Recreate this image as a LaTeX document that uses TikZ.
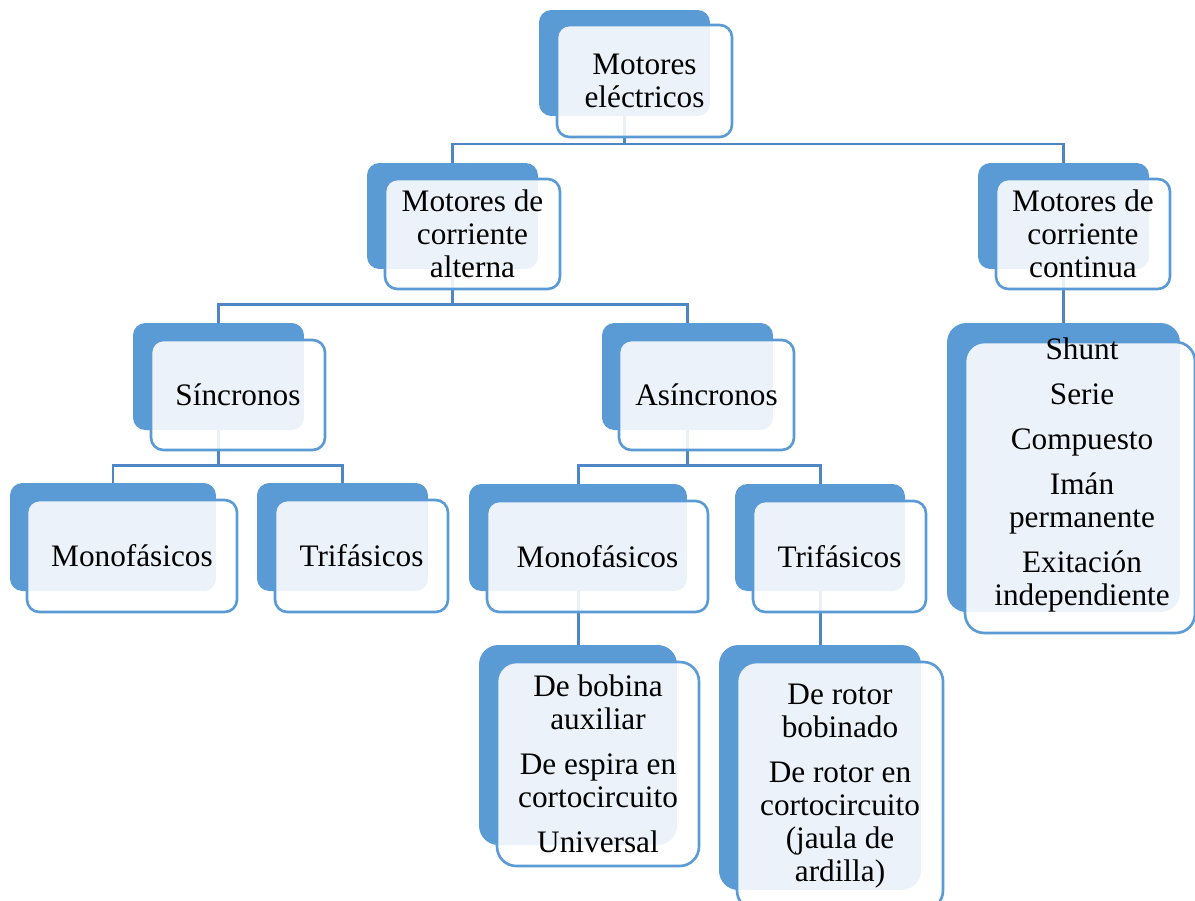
\documentclass[tikz,border=0pt]{standalone}
\usepackage{fontspec}
\setmainfont{Liberation Serif}
\usetikzlibrary{backgrounds}
\definecolor{azul}{HTML}{5B9BD5}
\definecolor{linea}{HTML}{4F86C6}
\tikzset{
    % caja azul de fondo
    fondo/.style={
           rectangle,
           rounded corners=7pt,
           fill=azul,
           inner sep=0pt},
    % caja clara con el texto
    caja/.style={
           rectangle,
           rounded corners=7pt,
           draw=azul, line width=1.5pt,
           fill=white, fill opacity=0.88, text opacity=1,
           inner sep=0pt,
           align=center,
           font=\fontsize{17.8}{18.7}\selectfont},
    % listas con esquinas mas redondas
    lista/.style={rounded corners=11pt},
    texto/.style={
           align=center,
           inner sep=0pt,
           font=\fontsize{17.8}{18.7}\selectfont},
    % conectores
    rama/.style={
           draw=linea,
           line width=1.7pt}
}
\begin{document}
\begin{tikzpicture}[x=0.02cm, y=-0.02cm]
      \clip (0,0) rectangle (1195,900);

      % nivel 0
      \node[fondo, minimum width=3.42cm, minimum height=2.12cm] (fElectricos) at (624.5,63) {};
      \node[caja, minimum width=3.5cm, minimum height=2.24cm] (electricos) at (644.5,81) {Motores\\el\'ectricos};

      % nivel 1
      \node[fondo, minimum width=3.42cm, minimum height=2.12cm] (fAlterna) at (452.5,216) {};
      \node[caja, minimum width=3.5cm, minimum height=2.2cm] (alterna) at (472.5,234) {Motores de\\corriente\\alterna};
      \node[fondo, minimum width=3.42cm, minimum height=2.12cm] (fContinua) at (1063.5,216) {};
      \node[caja, minimum width=3.48cm, minimum height=2.2cm] (continua) at (1083,234) {Motores de\\corriente\\continua};

      % nivel 2
      \node[fondo, minimum width=3.42cm, minimum height=2.14cm] (fSincronos) at (218.5,376.5) {};
      \node[caja, minimum width=3.48cm, minimum height=2.2cm] (sincronos) at (238,395) {S\'incronos};
      \node[fondo, minimum width=3.42cm, minimum height=2.14cm] (fAsincronos) at (687.5,376.5) {};
      \node[caja, minimum width=3.5cm, minimum height=2.2cm] (asincronos) at (706.5,395) {As\'incronos};
      \node[fondo, lista, minimum width=4.66cm, minimum height=5.78cm] (fListaCC) at (1063.5,467.5) {};
      \node[caja, lista, minimum width=4.6cm, minimum height=5.82cm] (listaCC) at (1080,487.5) {};
      \node[texto] (tListaCC) at (1082,475) {Shunt\\[7pt]Serie\\[7pt]Compuesto\\[7pt]Im\'an\\permanente\\[7pt]Exitaci\'on\\independiente};

      % nivel 3
      \node[fondo, minimum width=4.12cm, minimum height=2.16cm] (fMonoSin) at (113,537) {};
      \node[caja, minimum width=4.2cm, minimum height=2.24cm] (monoSin) at (132,556) {Monof\'asicos};
      \node[fondo, minimum width=3.42cm, minimum height=2.16cm] (fTriSin) at (342.5,537) {};
      \node[caja, minimum width=3.46cm, minimum height=2.24cm] (triSin) at (361.5,556) {Trif\'asicos};
      \node[fondo, minimum width=4.36cm, minimum height=2.14cm] (fMonoAsi) at (578,537.5) {};
      \node[caja, minimum width=4.42cm, minimum height=2.22cm] (monoAsi) at (597.5,556.5) {Monof\'asicos};
      \node[fondo, minimum width=3.4cm, minimum height=2.14cm] (fTriAsi) at (820,537.5) {};
      \node[caja, minimum width=3.46cm, minimum height=2.22cm] (triAsi) at (839.5,556.5) {Trif\'asicos};

      % nivel 4
      \node[fondo, lista, minimum width=3.96cm, minimum height=4cm] (fListaMono) at (578,745) {};
      \node[caja, lista, minimum width=4.04cm, minimum height=4.08cm] (listaMono) at (598,764) {De bobina\\auxiliar\\[7pt]De espira en\\cortocircuito\\[7pt]Universal};
      \node[fondo, lista, minimum width=4.04cm, minimum height=4.9cm] (fListaTri) at (820,767.5) {};
      \node[caja, lista, minimum width=4.12cm, minimum height=4.96cm] (listaTri) at (840,786) {De rotor\\bobinado\\[7pt]De rotor en\\cortocircuito\\(jaula de\\ardilla)};

      % alturas de las barras
      \coordinate (bus1) at (0,144);
      \coordinate (bus2) at (0,304);
      \coordinate (bus3) at (0,465);

      \begin{scope}[on background layer]
        \draw[rama] (fElectricos.center) -- (fElectricos.center |- bus1);
        \draw[rama] (fAlterna.north) -- (fAlterna.north |- bus1) -- (fContinua.north |- bus1) -- (fContinua.north);

        \draw[rama] (fAlterna.center) -- (fAlterna.center |- bus2);
        \draw[rama] (fSincronos.north) -- (fSincronos.north |- bus2) -- (fAsincronos.north |- bus2) -- (fAsincronos.north);
        \draw[rama] (fContinua.center) -- (fListaCC.north);

        \draw[rama] (fSincronos.center) -- (fSincronos.center |- bus3);
        \draw[rama] (fMonoSin.north) -- (fMonoSin.north |- bus3) -- (fTriSin.north |- bus3) -- (fTriSin.north);
        \draw[rama] (fAsincronos.center) -- (fAsincronos.center |- bus3);
        \draw[rama] (fMonoAsi.north) -- (fMonoAsi.north |- bus3) -- (fTriAsi.north |- bus3) -- (fTriAsi.north);

        \draw[rama] (fMonoAsi.center) -- (fListaMono.north);
        \draw[rama] (fTriAsi.center) -- (fListaTri.north);
      \end{scope}
  \end{tikzpicture}
\end{document}
